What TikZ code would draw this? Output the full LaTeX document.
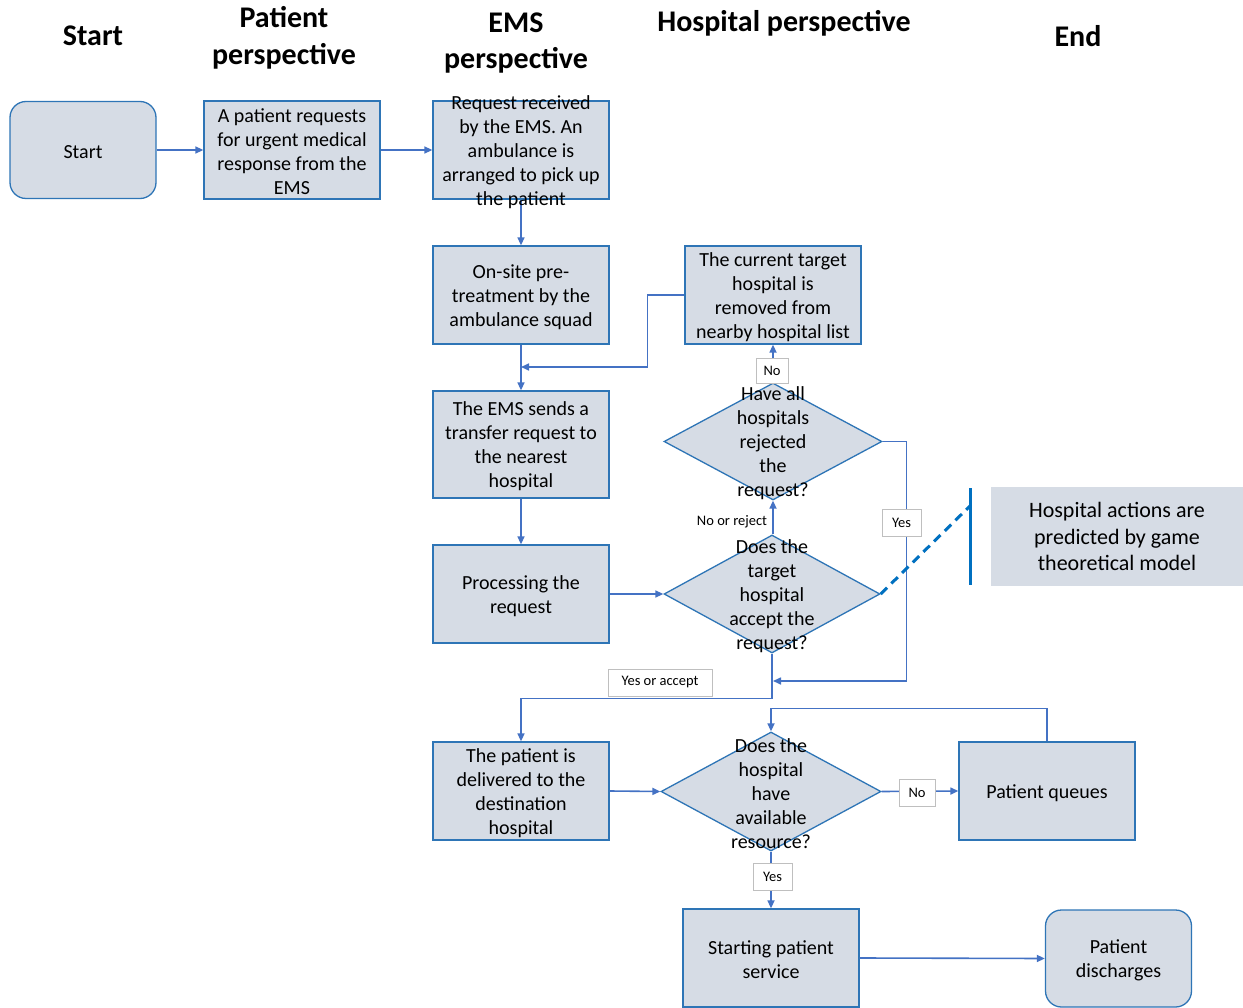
\documentclass[tikz,border=0pt]{standalone}
\usepackage{fontspec}
\setmainfont{Carlito}
\usetikzlibrary{shapes.geometric,arrows.meta,calc}
\definecolor{boxfill}{HTML}{D6DCE5}
\definecolor{boxline}{HTML}{2E75B6}
\definecolor{conncol}{HTML}{4472C4}
\definecolor{dashc}{HTML}{0070C0}
\definecolor{lblline}{HTML}{BFBFBF}
\begin{document}
\begin{tikzpicture}[x=1pt,y=-1pt,
 procbox/.style={draw=boxline, fill=boxfill, line width=1.3pt, minimum width=176pt, minimum height=98pt, inner sep=0pt},
 termbox/.style={procbox, rounded corners=16pt, minimum width=146pt, minimum height=97pt},
 decbox/.style={draw=boxline, fill=boxfill, line width=1.3pt, diamond, minimum width=218pt, minimum height=118pt, inner sep=0pt},
 bodytxt/.style={align=center, font=\fontsize{20}{24}\selectfont, inner sep=0pt, text=black, yshift=-2pt},
 headtxt/.style={align=center, font=\fontsize{30}{36.6}\selectfont\bfseries, inner sep=0pt},
 connline/.style={draw=conncol, line width=1.6pt, -{Triangle[length=8pt,width=7pt]}},
 lblbox/.style={draw=lblline, fill=white, line width=0.8pt, font=\fontsize{14.5}{17}\selectfont, inner sep=0pt},
 bartxt/.style={align=center, font=\fontsize{22}{26.5}\selectfont, inner sep=0pt},
]
\useasboundingbox[fill=white] (0,0) rectangle (1243,1008);

% headers
\node[headtxt] (h1) at (93,36) {Start};
\node[headtxt] (h2) at (284,38) {Patient\\perspective};
\node[headtxt] (h3) at (516,43) {EMS\\perspective};
\node[headtxt] (h4) at (784,23) {Hospital perspective};
\node[headtxt] (h5) at (1078,36) {End};

% shapes
\node[termbox] (start) at (83,150) {};
\node[procbox] (pat) at (292,150) {};
\node[procbox] (ems) at (521,150) {};
\node[procbox] (onsite) at (521,295) {};
\node[procbox] (rem) at (773,295) {};
\node[procbox, minimum height=107pt] (send) at (521,444.5) {};
\node[procbox] (proc) at (521,594) {};
\node[decbox, minimum height=117pt] (d1) at (773,441.5) {};
\node[decbox, minimum width=216pt] (d2) at (772,594) {};
\node[procbox] (deliv) at (521,791) {};
\node[decbox, minimum width=220pt, minimum height=119pt] (d3) at (771,791.5) {};
\node[procbox] (queue) at (1047,791) {};
\node[procbox] (serv) at (771,958) {};
\node[termbox] (dis) at (1118.5,958.5) {};
\node[fill=boxfill, minimum width=252pt, minimum height=99pt, inner sep=0pt] (hosp) at (1117,536.5) {};

% connectors
\coordinate (j1) at (521,367);
\coordinate (j2) at (773,681);
\draw[connline] (start.east) -- (pat.west);
\draw[connline] (pat.east) -- (ems.west);
\draw[connline] (ems.south) -- (onsite.north);
\draw[connline] (onsite.south) -- (send.north);
\draw[connline] (rem.west) -- ++(-37,0) |- (j1);
\draw[connline] (send.south) -- (proc.north);
\draw[connline] (proc.east) -- (d2.west);
\draw[connline] (d1.south |- d2.north) -- (d1.south);
\draw[connline] (d1.north) -- (rem.south);
\draw[connline] (d1.east) -- ++(24,0) |- (j2);
\draw[connline] (d2.south) -- ++(0,45) -| (deliv.north);
\draw[connline] (deliv.east) -- (d3.west);
\draw[connline] (d3.east) -- (queue.west);
\draw[connline] (queue.north) -- ++(0,-33) -| (d3.north);
\draw[connline] (d3.south) -- (serv.north);
\draw[connline] (serv.east) -- (dis.west);

% game-theory bracket
\coordinate (bt) at (970,488);
\coordinate (bb) at (970,585);
\coordinate (dend) at (970,506);
\draw[dashc, line width=3pt] (bt) -- (bb);
\draw[dashc, line width=3pt, dash pattern=on 9pt off 6pt] (d2.east) -- (dend);

% texts
\node[bodytxt] (start-t) at (start) {Start};
\node[bodytxt] (pat-t) at (pat) {A patient requests\\for urgent medical\\response from the\\EMS};
\node[bodytxt] (ems-t) at (ems) {Request received\\by the EMS. An\\ambulance is\\arranged to pick up\\the patient};
\node[bodytxt] (onsite-t) at (onsite) {On-site pre-\\treatment by the\\ambulance squad};
\node[bodytxt] (rem-t) at (rem) {The current target\\hospital is\\removed from\\nearby hospital list};
\node[bodytxt] (send-t) at (send) {The EMS sends a\\transfer request to\\the nearest\\hospital};
\node[bodytxt] (proc-t) at (proc) {Processing the\\request};
\node[bodytxt] (d1-t) at (d1) {Have all\\hospitals\\rejected\\the\\request?};
\node[bodytxt] (d2-t) at (d2) {Does the\\target\\hospital\\accept the\\request?};
\node[bodytxt] (deliv-t) at (deliv) {The patient is\\delivered to the\\destination\\hospital};
\node[bodytxt] (d3-t) at (d3) {Does the\\hospital\\have\\available\\resource?};
\node[bodytxt] (queue-t) at (queue) {Patient queues};
\node[bodytxt] (serv-t) at (serv) {Starting patient\\service};
\node[bodytxt] (dis-t) at (dis) {Patient\\discharges};
\node[bartxt] (hosp-t) at (hosp) {Hospital actions are\\predicted by game\\theoretical model};

% labels
\node[lblbox, minimum width=32pt, minimum height=25pt] (lno1) at (772,371) {\raisebox{-1pt}{No}};
\node[font=\fontsize{14.5}{17}\selectfont, inner sep=1pt] (lrej) at (732,522) {No or reject};
\node[lblbox, minimum width=39pt, minimum height=27pt] (lyes1) at (901.5,522.5) {\raisebox{-1pt}{Yes}};
\node[lblbox, minimum width=104pt, minimum height=27pt] (lacc) at (660,682.5) {\raisebox{-1pt}{Yes or accept}};
\node[lblbox, minimum width=36pt, minimum height=27pt] (lno2) at (917,792.5) {\raisebox{-1pt}{No}};
\node[lblbox, minimum width=39pt, minimum height=27pt] (lyes2) at (772.5,876.5) {\raisebox{-1pt}{Yes}};
\end{tikzpicture}
\end{document}
